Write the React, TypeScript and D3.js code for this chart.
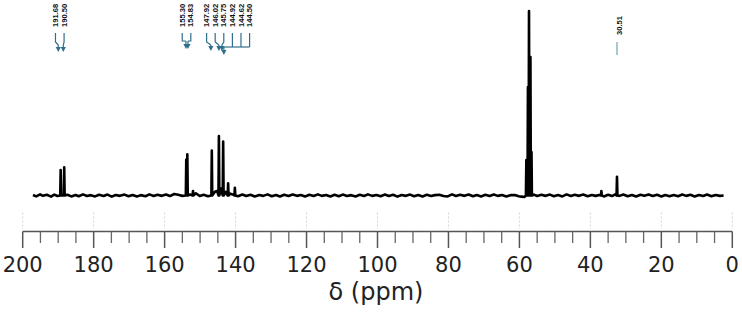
import React from "react";
import * as d3 from "d3";

// ---- data (ppm, relative intensity) ----
const peakPpm = [189.3, 188.3, 153.9, 153.6, 152.0, 146.7, 144.7, 143.5, 142.1, 140.2, 58.05, 57.6, 57.3, 56.9, 56.6, 36.9, 32.5];
const peakHeight = [13.8, 15.3, 19.5, 22.3, 2.4, 24.3, 32.2, 29.2, 6.6, 4.2, 19.2, 58.8, 100, 75, 23.6, 2.4, 10.2];

const baselinePpm = [
  197.1, 196.2, 195.1, 194.3, 193.2, 192.0, 191.1, 190.2, 187.4, 186.3, 185.1, 184.2, 183.0, 181.9, 180.8, 179.6,
  178.5, 177.2, 176.1, 174.9, 173.8, 172.6, 171.3, 170.2, 169.0, 167.8, 166.7, 165.4, 164.3, 163.1, 162.0, 160.8,
  159.6, 158.5, 157.3, 156.2, 155.0, 152.8, 151.2, 150.1, 149.0, 147.8, 145.8, 145.2, 144.1, 142.8, 141.5, 140.8,
  139.3, 138.1, 137.0, 135.8, 134.6, 133.3, 132.2, 131.0, 129.8, 128.6, 127.5, 126.3, 125.1, 123.9, 122.7, 121.6,
  120.4, 119.2, 118.0, 116.8, 115.7, 114.5, 113.3, 112.1, 110.9, 109.8, 108.6, 107.4, 106.2, 105.0, 103.8, 102.7,
  101.5, 100.3, 99.1, 97.9, 96.8, 95.6, 94.4, 93.2, 92.0, 90.8, 89.7, 88.5, 87.3, 86.1, 84.9, 83.8, 82.6, 81.4,
  80.2, 79.0, 77.9, 76.7, 75.5, 74.3, 73.1, 72.0, 70.8, 69.6, 68.4, 67.2, 66.1, 64.9, 63.7, 62.5, 61.3, 60.2,
  59.4, 58.6, 55.9, 55.0, 53.8, 52.6, 51.4, 50.3, 49.1, 47.9, 46.7, 45.5, 44.4, 43.2, 42.0, 40.8, 39.6, 38.5,
  37.5, 36.2, 35.0, 33.9, 33.0, 31.8, 30.7, 29.5, 28.3, 27.1, 25.9, 24.8, 23.6, 22.4, 21.2, 20.0, 18.9, 17.7,
  16.5, 15.3, 14.1, 13.0, 11.8, 10.6, 9.4, 8.2, 7.1, 5.9, 4.7, 3.5, 2.45,
];
const baselineVal = [
  0.3, -0.5, 0.6, -0.2, 0.4, -0.6, 0.5, -0.3, 0.4, -0.5, 0.3, -0.4, 0.6, -0.3, 0.2, -0.5,
  0.4, -0.3, 0.5, -0.6, 0.3, -0.2, 0.5, -0.4, 0.3, -0.5, 0.2, -0.4, 0.6, -0.3, 0.4, -0.2,
  0.5, -0.3, 0.8, 0.4, -0.2, 0.5, 1.2, -0.3, 0.4, -0.4, 2.0, 2.5, 3.8, 2.0, 1.0, 0.6,
  -0.4, 0.5, -0.3, 0.4, -0.5, 0.3, -0.2, 0.6, -0.4, 0.3, -0.5, 0.4, -0.3, 0.5, -0.2, 0.3,
  -0.5, 0.4, -0.3, 0.6, -0.2, 0.3, -0.5, 0.4, -0.4, 0.5, -0.3, 0.2, -0.5, 0.4, -0.3, 0.6,
  -0.2, 0.3, -0.4, 0.5, -0.3, 0.4, -0.6, 0.3, -0.2, 0.5, -0.4, 0.3, -0.5, 0.4, -0.3, 0.2, 0.4, -0.3,
  -0.5, 0.6, -0.3, 0.4, -0.2, 0.5, -0.4, 0.3, -0.5, 0.4, -0.3, 0.5, -0.2, 0.3, -0.5, 0.2, 0.3, -0.4,
  -0.6, -0.8, 0.5, -0.3, 0.4, -0.2, 0.5, -0.4, 0.3, -0.5, 0.6, -0.3, 0.4, -0.2, 0.5, -0.4, 0.3, -0.2,
  0.3, -0.5, 0.4, -0.3, 0.6, -0.2, 0.5, -0.4, 0.3, -0.5, 0.4, -0.2, 0.5, -0.3, 0.4, -0.5, 0.3, -0.4,
  0.3, -0.4, 0.5, -0.2, 0.4, -0.5, 0.3, -0.3, 0.5, -0.4, 0.3, -0.2, 0.0,
];

const majorTicks = [200, 180, 160, 140, 120, 100, 80, 60, 40, 20, 0];

// peak annotation labels
const labelGroupA = ["191.68", "190.50"];
const arrowGroupA = [189.97, 188.56];
const labelGroupB = ["155.30", "154.83"];
const arrowGroupB = [153.7, 153.7];
const labelGroupC = ["147.92", "146.02", "145.75"];
const arrowGroupC = [146.96, 144.7, 143.86];
const labelGroupD = ["144.92", "144.62", "144.50"];
const arrowGroupD = 143.3;
const labelGroupE = ["30.51"];
const arrowGroupE = 32.5;
// label start positions (ppm) of each group
const groupStartPpm = { A: 190.76, B: 155.04, C: 148.17, E: 31.8 };

const W = 742;
const H = 315;
const TEAL = "#2f6f8d";

export default function App() {
  const x = d3.scaleLinear().domain([200, 0]).range([22.7, 732.3]);
  const y = d3.scaleLinear().domain([0, 100]).range([195.5, 11]);

  const n = Math.min(baselinePpm.length, baselineVal.length);
  const pts: [number, number][] = baselinePpm.slice(0, n).map((p, i) => [p, baselineVal[i]]);
  peakPpm.forEach((p, i) => {
    pts.push([p + 0.12, 0]);
    pts.push([p, peakHeight[i]]);
    pts.push([p - 0.12, 0]);
  });
  pts.sort((a, b) => b[0] - a[0]);
  const line = d3.line<[number, number]>().x((d) => x(d[0])).y((d) => y(d[1]));

  const minorTicks = d3.range(0, 201, 5).filter((t) => t % 20 !== 0);
  const axisY = 231.5;
  const sp = 8.6;
  const labelEnd = 27;

  const arrow = (ax: number, y0: number, y1: number, key: string) => (
    <g key={key}>
      <line x1={ax} x2={ax} y1={y0} y2={y1 - 4} stroke={TEAL} strokeWidth={1.2} />
      <path d={`M${ax - 2.6},${y1 - 5} L${ax + 2.6},${y1 - 5} L${ax},${y1} Z`} fill={TEAL} />
    </g>
  );

  const labelText = (t: string, lx: number, yEnd: number, key: string) => (
    <text
      key={key}
      transform={`translate(${lx},${yEnd}) rotate(-90)`}
      dy="0.35em"
      fontFamily="Liberation Sans, Arial, sans-serif"
      fontWeight="bold"
      fontSize={7.6}
      fill="#111"
    >
      {t}
    </text>
  );

  const ann: React.ReactNode[] = [];
  labelGroupA.forEach((t, i) => {
    const lx = x(groupStartPpm.A) + i * sp;
    const ax = x(arrowGroupA[i]);
    ann.push(labelText(t, lx, labelEnd, "ta" + i));
    ann.push(<path key={"pa" + i} d={`M${lx},33 L${lx},42 L${ax},45`} fill="none" stroke={TEAL} strokeWidth={1.2} />);
    ann.push(arrow(ax, 45, 52, "aa" + i));
  });
  labelGroupB.forEach((t, i) => {
    const lx = x(groupStartPpm.B) + i * sp;
    const ax = x(arrowGroupB[i]) + (i === 0 ? -1 : 1);
    ann.push(labelText(t, lx, labelEnd, "tb" + i));
    ann.push(<path key={"pb" + i} d={`M${lx},33 L${lx},41 L${ax},41`} fill="none" stroke={TEAL} strokeWidth={1.2} />);
    ann.push(arrow(ax, 41, 49, "ab" + i));
  });
  labelGroupC.forEach((t, i) => {
    const lx = x(groupStartPpm.C) + i * sp;
    const ax = x(arrowGroupC[i]);
    ann.push(labelText(t, lx, labelEnd, "tc" + i));
    ann.push(<path key={"pc" + i} d={`M${lx},33 L${lx},42 L${ax},45`} fill="none" stroke={TEAL} strokeWidth={1.2} />);
    ann.push(arrow(ax, 45, 51, "ac" + i));
  });
  const axD = x(arrowGroupD);
  labelGroupD.forEach((t, i) => {
    const lx = x(groupStartPpm.C) + (i + 3) * sp;
    ann.push(labelText(t, lx, labelEnd, "td" + i));
    ann.push(<path key={"pd" + i} d={`M${lx},33 L${lx},47`} fill="none" stroke={TEAL} strokeWidth={1.2} />);
  });
  const lastD = x(groupStartPpm.C) + 5 * sp;
  ann.push(<path key="pdh" d={`M${axD},47 L${lastD},47`} fill="none" stroke={TEAL} strokeWidth={1.2} />);
  ann.push(arrow(axD, 47, 55, "ad"));
  labelGroupE.forEach((t, i) => {
    const lx = x(groupStartPpm.E);
    ann.push(labelText(t, lx, 35, "te" + i));
    const ax = x(arrowGroupE);
    ann.push(<line key={"le" + i} x1={ax} x2={ax} y1={42} y2={55} stroke="#6fa3bd" strokeWidth={1.2} />);
  });

  return (
    <svg width={W} height={H} style={{ position: "absolute", left: 0, top: 0, background: "#fff" }}>
      <rect width={W} height={H} fill="#fff" />
      {majorTicks.map((t) => (
        <line key={"g" + t} x1={x(t)} x2={x(t)} y1={212.5} y2={229} stroke="#c8c8c8" strokeWidth={0.8} strokeDasharray="2,2" />
      ))}
      <path d={line(pts) || ""} fill="none" stroke="#000" strokeWidth={2.6} strokeLinejoin="round" />
      {ann}
      <line x1={x(200)} x2={x(0)} y1={axisY} y2={axisY} stroke="#555" strokeWidth={1.6} />
      {majorTicks.map((t) => (
        <line key={"M" + t} x1={x(t)} x2={x(t)} y1={axisY} y2={248} stroke="#555" strokeWidth={1.5} />
      ))}
      {minorTicks.map((t) => (
        <line key={"m" + t} x1={x(t)} x2={x(t)} y1={axisY} y2={243} stroke="#666" strokeWidth={1.3} />
      ))}
      {majorTicks.map((t) => (
        <text key={"l" + t} x={x(t)} y={271.7} textAnchor="middle" fontFamily="DejaVu Sans" fontSize={21} fill="#222">
          {t}
        </text>
      ))}
      <text x={376} y={300} textAnchor="middle" fontFamily="DejaVu Sans" fontSize={24} fill="#222">
        δ (ppm)
      </text>
    </svg>
  );
}
